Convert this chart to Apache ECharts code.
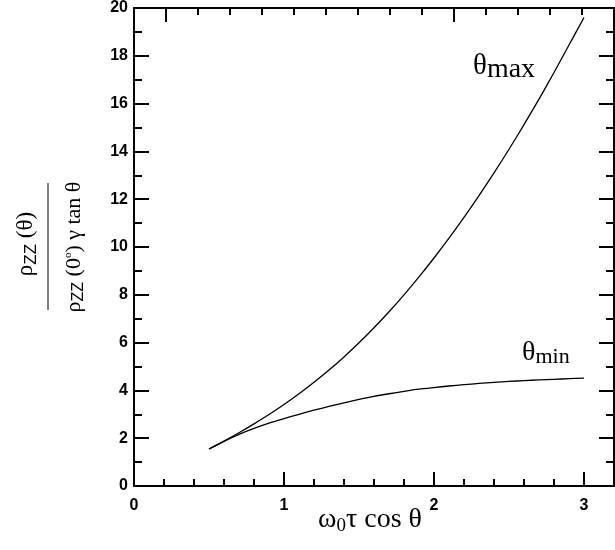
<!DOCTYPE html>
<html><head><meta charset="utf-8">
<script src="https://cdn.jsdelivr.net/npm/echarts@6/dist/echarts.min.js"></script>
<style>html,body{margin:0;padding:0;background:#fff}#c{width:615px;height:550px}</style>
</head><body><div id="c"></div>
<script>
const xValues  = [0.5,0.6,0.7,0.8,0.9,1.0,1.1,1.2,1.3,1.4,1.5,1.6,1.7,1.8,1.9,2.0,2.1,2.2,2.3,2.4,2.5,2.6,2.7,2.8,2.9,3.0];
const thetaMax = [1.55,1.88,2.23,2.60,2.99,3.41,3.86,4.34,4.85,5.40,5.99,6.62,7.29,8.00,8.75,9.54,10.37,11.24,12.15,13.10,14.09,15.12,16.19,17.30,18.45,19.60];
const thetaMin = [1.55,1.87,2.16,2.41,2.63,2.82,3.00,3.17,3.33,3.48,3.62,3.75,3.86,3.96,4.05,4.12,4.185,4.24,4.29,4.335,4.375,4.41,4.44,4.465,4.49,4.51];
const xMajorTicks = [0,1,2,3];
const xMinorTicks = [0.2,0.4,0.6,0.8,1.2,1.4,1.6,1.8,2.2,2.4,2.6,2.8];
const topMinorTicks = [1,2,3,4,5,6,7,8,9,10,11,12,13,14];
const topMajorTicks = [1,10];

const chart = echarts.init(document.getElementById('c'), null, {renderer:'canvas'});
const black = '#000';
const lblFont = {color: black, fontFamily: 'Liberation Sans, Arial, sans-serif', fontWeight: 'bold', fontSize: 16};
const serif = 'Liberation Serif, DejaVu Serif, serif';

function pairs(ys){ return xValues.map((x,i)=>[x, ys[i]]); }

chart.setOption({
  animation: false,
  backgroundColor: '#fff',
  grid: {left:134, right:1, top:7, bottom:64, containLabel:false},
  xAxis: [
    {type:'value', position:'bottom', min:0, max:3.2,
     axisLine:{show:true, onZero:false, lineStyle:{color:black, width:2}},
     axisTick:{show:true, inside:true, length:14, customValues:xMajorTicks, lineStyle:{color:black, width:2}},
     axisLabel:Object.assign({show:true, margin:12, customValues:xMajorTicks}, lblFont),
     splitLine:{show:false}},
    {type:'value', position:'bottom', min:0, max:3.2,
     axisLine:{show:false, onZero:false},
     axisTick:{show:true, inside:true, length:7, customValues:xMinorTicks, lineStyle:{color:black, width:2}},
     axisLabel:{show:false}, splitLine:{show:false}},
    {type:'value', position:'top', min:0, max:15,
     axisLine:{show:true, onZero:false, lineStyle:{color:black, width:2}},
     axisTick:{show:true, inside:true, length:7, customValues:topMinorTicks, lineStyle:{color:black, width:2}},
     axisLabel:{show:false}, splitLine:{show:false}},
    {type:'value', position:'top', min:0, max:15,
     axisLine:{show:false, onZero:false},
     axisTick:{show:true, inside:true, length:14, customValues:topMajorTicks, lineStyle:{color:black, width:2}},
     axisLabel:{show:false}, splitLine:{show:false}}
  ],
  yAxis: [
    {type:'value', position:'left', min:0, max:20, interval:2,
     axisLine:{show:true, onZero:false, lineStyle:{color:black, width:2}},
     axisTick:{show:true, inside:true, length:15, lineStyle:{color:black, width:2}},
     minorTick:{show:true, splitNumber:2, length:8, lineStyle:{color:black, width:2}},
     axisLabel:Object.assign({show:true, margin:6}, lblFont),
     splitLine:{show:false}, minorSplitLine:{show:false}},
    {type:'value', position:'right', min:0, max:20, interval:2,
     axisLine:{show:true, onZero:false, lineStyle:{color:black, width:2}},
     axisTick:{show:true, inside:true, length:15, lineStyle:{color:black, width:2}},
     minorTick:{show:true, splitNumber:2, length:8, lineStyle:{color:black, width:2}},
     axisLabel:{show:false}, splitLine:{show:false}, minorSplitLine:{show:false}}
  ],
  series: [
    {name:'θmax', type:'line', data:pairs(thetaMax), xAxisIndex:0, yAxisIndex:0, smooth:0.3, showSymbol:false,
     lineStyle:{color:black, width:1.3}, itemStyle:{color:black}},
    {name:'θmin', type:'line', data:pairs(thetaMin), xAxisIndex:0, yAxisIndex:0, smooth:0.3, showSymbol:false,
     lineStyle:{color:black, width:1.3}, itemStyle:{color:black}}
  ],
  graphic: [
    {type:'text', left:473, top:48, style:{
      text:'{t|θ}{s|max}', rich:{
        t:{fontFamily:serif, fontSize:29, fill:black, lineHeight:32},
        s:{fontFamily:serif, fontSize:28, fill:black, padding:[8,0,0,0], lineHeight:32}
      }}},
    {type:'text', left:522, top:337, style:{
      text:'{t|θ}{s|min}', rich:{
        t:{fontFamily:serif, fontSize:28, fill:black, lineHeight:30},
        s:{fontFamily:serif, fontSize:22, fill:black, padding:[9,0,0,0], lineHeight:30}
      }}},
    {type:'text', x:370, y:520, style:{
      text:'{t|ω}{s|0}{t|τ cos θ}', align:'center', verticalAlign:'middle', rich:{
        t:{fontFamily:serif, fontSize:28, fill:black, lineHeight:30},
        s:{fontFamily:serif, fontSize:19, fill:black, padding:[12,0,0,0], lineHeight:30}
      }}},
    {type:'text', x:26, y:244, rotation:Math.PI/2, style:{
      text:'{t|ρ}{s|ZZ}{t| (θ)}', align:'center', verticalAlign:'middle', rich:{
        t:{fontFamily:serif, fontSize:23, fill:black, lineHeight:26},
        s:{fontFamily:'Liberation Sans Narrow, Liberation Sans, sans-serif', fontSize:17, fill:black, padding:[10,0,0,0], lineHeight:26}
      }}},
    {type:'line', shape:{x1:48, y1:183, x2:48, y2:310}, style:{stroke:black, lineWidth:1}},
    {type:'text', x:74, y:247, rotation:Math.PI/2, style:{
      text:'{t|ρ}{s|ZZ}{t| (0}{u|o}{t|) γ tan θ}', align:'center', verticalAlign:'middle', rich:{
        t:{fontFamily:serif, fontSize:22, fill:black, lineHeight:26},
        s:{fontFamily:'Liberation Sans Narrow, Liberation Sans, sans-serif', fontSize:16, fill:black, padding:[10,0,0,0], lineHeight:26},
        u:{fontFamily:serif, fontSize:11, fill:black, padding:[0,0,12,0], lineHeight:26}
      }}}
  ]
});
</script>
</body></html>
